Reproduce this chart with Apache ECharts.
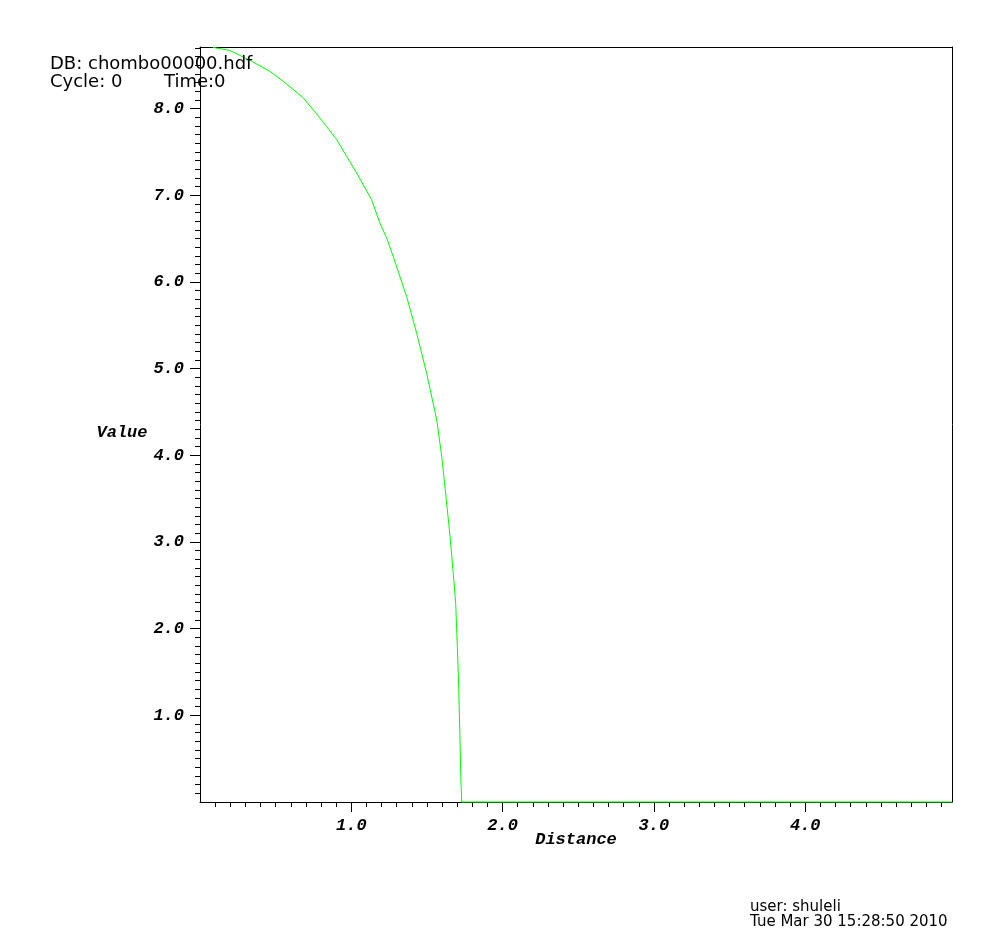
<!DOCTYPE html>
<html>
<head>
<meta charset="utf-8">
<script src="https://cdn.jsdelivr.net/npm/echarts@6/dist/echarts.min.js"></script>
<style>html,body{margin:0;padding:0;background:#fff;}#chart{width:1003px;height:944px;}</style>
</head>
<body>
<div id="chart"></div>
<script>
// Data
var distance = [0.086, 0.197, 0.340, 0.461, 0.549, 0.682, 0.792, 0.903, 0.969, 1.035, 1.134, 1.189, 1.234, 1.277, 1.366, 1.432, 1.498, 1.565, 1.598, 1.626, 1.653, 1.674, 1.690, 1.701, 1.710, 1.719, 1.725, 1.730, 4.97];
var value = [8.705, 8.671, 8.547, 8.431, 8.316, 8.124, 7.893, 7.642, 7.449, 7.257, 6.948, 6.679, 6.505, 6.293, 5.830, 5.407, 4.945, 4.405, 3.980, 3.518, 3.056, 2.632, 2.286, 1.784, 1.321, 0.667, 0.205, 0.0, 0.0];
var xMajorTicks = [1, 2, 3, 4];
var yMajorTicks = [1, 2, 3, 4, 5, 6, 7, 8];
var X_MIN = 0, X_MAX = 4.97;
var Y_MIN = 0, Y_MAX = 8.71;
var headerLines = ['DB: chombo00000.hdf', 'Cycle: 0'];
var timeText = 'Time:0';
var footerLines = ['user: shuleli', 'Tue Mar 30 15:28:50 2010'];

function minorTicks(lo, hi) {
  var out = [];
  for (var i = Math.ceil(lo * 10 + 1e-6); i <= Math.floor(hi * 10 + 1e-6); i++) {
    if (i % 10 !== 0) out.push(i / 10);
  }
  return out;
}

var tickFont = {
  fontFamily: '"Liberation Mono", "Courier New", monospace',
  fontWeight: 'bold', fontStyle: 'italic', fontSize: 17, color: '#000'
};
var nameFont = {
  fontFamily: '"Liberation Mono", "Courier New", monospace',
  fontWeight: 'bold', fontStyle: 'italic', fontSize: 17, color: '#000'
};
var frameAxis = {
  type: 'value', name: '', axisTick: {show: false}, axisLabel: {show: false}, splitLine: {show: false},
  axisLine: {show: true, onZero: false, lineStyle: {color: '#000', width: 1}}
};

var chart = echarts.init(document.getElementById('chart'), null, {renderer: 'canvas'});
var series = distance.map(function (d, i) { return [d, value[i]]; });

chart.setOption({
  animation: false,
  backgroundColor: '#fff',
  grid: {
    left: 200, right: 51, top: 47, bottom: 142,
    show: false, containLabel: false, outerBoundsMode: 'none'
  },
  xAxis: [{
    type: 'value', min: X_MIN, max: X_MAX, position: 'bottom',
    name: 'Distance', nameLocation: 'middle', nameGap: 29, nameMoveOverlap: false, nameTextStyle: nameFont,
    axisLine: {show: true, onZero: false, lineStyle: {color: '#000', width: 1}},
    axisTick: {show: true, inside: false, length: 10, customValues: xMajorTicks, lineStyle: {color: '#000'}},
    axisLabel: Object.assign({show: true, margin: 15, customValues: xMajorTicks,
      formatter: function (v) { return v.toFixed(1); }}, tickFont),
    splitLine: {show: false}
  }, {
    type: 'value', min: X_MIN, max: X_MAX, position: 'bottom', offset: 0,
    axisLine: {show: false, onZero: false},
    axisTick: {show: true, inside: false, length: 5, customValues: minorTicks(X_MIN, X_MAX), lineStyle: {color: '#000'}},
    axisLabel: {show: false},
    splitLine: {show: false}
  }, Object.assign({min: X_MIN, max: X_MAX, position: 'top', offset: 0}, frameAxis)],
  yAxis: [{
    type: 'value', min: Y_MIN, max: Y_MAX, position: 'left',
    name: 'Value', nameLocation: 'middle', nameGap: 50, nameRotate: 0,
    nameTextStyle: Object.assign({verticalAlign: 'top'}, nameFont),
    axisLine: {show: true, onZero: false, lineStyle: {color: '#000', width: 1}},
    axisTick: {show: true, inside: false, length: 10, customValues: yMajorTicks, lineStyle: {color: '#000'}},
    axisLabel: Object.assign({show: true, margin: 16, customValues: yMajorTicks,
      formatter: function (v) { return v.toFixed(1); }}, tickFont),
    splitLine: {show: false}
  }, {
    type: 'value', min: Y_MIN, max: Y_MAX, position: 'left', offset: 0,
    axisLine: {show: false, onZero: false},
    axisTick: {show: true, inside: false, length: 5, customValues: minorTicks(Y_MIN, Y_MAX), lineStyle: {color: '#000'}},
    axisLabel: {show: false},
    splitLine: {show: false}
  }, Object.assign({min: Y_MIN, max: Y_MAX, position: 'right', offset: 0}, frameAxis)],
  series: [{
    type: 'line', data: series, xAxisIndex: 0, yAxisIndex: 0,
    showSymbol: false, symbol: 'none', clip: false, z: 5,
    lineStyle: {color: '#00ff00', width: 1}
  }],
  graphic: [
    {type: 'text', left: 50, top: 55, z: 100, style: {text: headerLines[0], font: '18px "DejaVu Sans"', fill: '#000'}},
    {type: 'text', left: 50, top: 73, z: 100, style: {text: headerLines[1], font: '18px "DejaVu Sans"', fill: '#000'}},
    {type: 'text', left: 164, top: 73, z: 100, style: {text: timeText, font: '18px "DejaVu Sans"', fill: '#000'}},
    {type: 'text', left: 750, top: 900, z: 100, style: {text: footerLines[0], font: '15px "DejaVu Sans"', fill: '#000'}},
    {type: 'text', left: 750, top: 915, z: 100, style: {text: footerLines[1], font: '15px "DejaVu Sans"', fill: '#000'}}
  ]
});
</script>
</body>
</html>
